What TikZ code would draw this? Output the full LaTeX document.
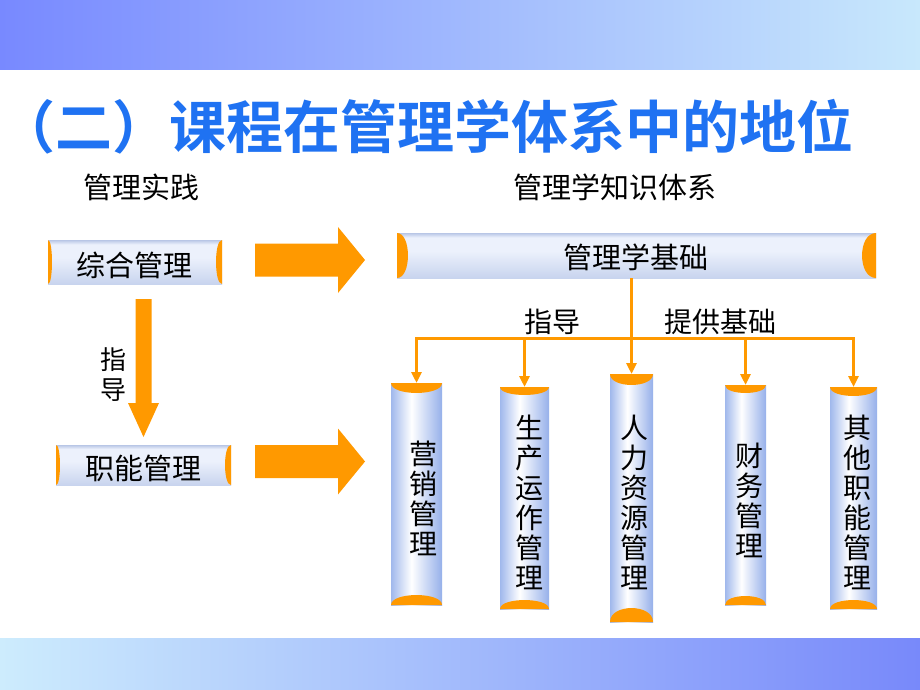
\documentclass[tikz,border=0pt]{standalone}
\usepackage{fontspec}
\newfontfamily\cjk[BoldFont={* Bold}]{Noto Sans CJK SC}
\usetikzlibrary{arrows.meta,calc}
\definecolor{topL}{RGB}{120,137,255}
\definecolor{topR}{RGB}{200,232,252}
\definecolor{botL}{RGB}{205,236,253}
\definecolor{botR}{RGB}{120,137,250}
\definecolor{orng}{RGB}{255,153,0}
\definecolor{titleblue}{RGB}{31,114,242}
\definecolor{cylB}{RGB}{160,184,236}
\definecolor{cylBB}{RGB}{150,176,234}
\definecolor{hTop}{RGB}{184,198,230}
\definecolor{hMid}{RGB}{236,241,252}
\definecolor{hBot}{RGB}{200,212,238}
\pgfdeclarehorizontalshading{vbarshade}{100bp}{color(0bp)=(cylB); color(25bp)=(cylB); color(45bp)=(white); color(75bp)=(cylBB); color(100bp)=(cylBB)}
\pgfdeclareverticalshading{hbarshade}{100bp}{color(0bp)=(hBot); color(25bp)=(hBot); color(55bp)=(hMid); color(70bp)=(hMid); color(75bp)=(hTop); color(100bp)=(hTop)}
\newcommand\hcaps[3]{%
  \fill[orng] (#1.north west) -- (#1.south west) .. controls ([xshift={1.33*#2pt}]#1.south west) and ([xshift={1.33*#2pt}]#1.north west) .. (#1.north west);
  \fill[orng] (#1.north east) -- (#1.south east) .. controls ([xshift={-1.33*#3pt}]#1.south east) and ([xshift={-1.33*#3pt}]#1.north east) .. (#1.north east);}
\newcommand\vcaps[3]{%
  \fill[orng] (#1.north west) -- (#1.north east) .. controls ([yshift={-1.33*#2pt}]#1.north east) and ([yshift={-1.33*#2pt}]#1.north west) .. (#1.north west);
  \fill[orng] (#1.south west) -- (#1.south east) .. controls ([yshift={1.33*#3pt}]#1.south east) and ([yshift={1.33*#3pt}]#1.south west) .. (#1.south west);}
\newcommand\myRArrow[2]{\fill[orng] ($(#1)+(0,-16.5)$) -- ($(#2)+(-27,-16.5)$) -- ($(#2)+(-27,-33)$) -- (#2) -- ($(#2)+(-27,33)$) -- ($(#2)+(-27,16.5)$) -- ($(#1)+(0,16.5)$) -- cycle;}
\newcommand\myDArrow[2]{\fill[orng] ($(#1)+(-8,0)$) -- ($(#2)+(-8,-34)$) -- ($(#2)+(-15.5,-34)$) -- (#2) -- ($(#2)+(15.5,-34)$) -- ($(#2)+(8,-34)$) -- ($(#1)+(8,0)$) -- cycle;}
\begin{document}
\begin{tikzpicture}[x=1pt,y=-1pt,
  hbar/.style={shade, shading=hbarshade, inner sep=0pt, outer sep=0pt},
  vbar/.style={shade, shading=vbarshade, inner sep=0pt, outer sep=0pt},
  txt/.style={inner sep=0pt, font=\cjk\fontsize{29pt}{31pt}\selectfont},
  vtxt/.style={inner sep=0pt, align=center, font=\cjk\fontsize{28pt}{30pt}\selectfont},
  conn/.style={draw=orng, line width=3pt},
  tip/.style={-{Triangle[length=11pt,width=10pt]}}]
\useasboundingbox (0,0) rectangle (920,690);
\fill[white] (0,0) rectangle (920,690);
\shade[left color=topL, right color=topR] (0,0) rectangle (920,70);
\shade[left color=botL, right color=botR] (0,638) rectangle (920,690);

\node[inner sep=0pt, anchor=west, text=titleblue, font=\cjk\bfseries\fontsize{57pt}{60pt}\selectfont] (title) at (-2,127) {（二）课程在管理学体系中的地位};
\node[txt] (hp) at (141,187) {管理实践};
\node[txt] (hk) at (615,187) {管理学知识体系};

% left boxes
\node[hbar, minimum width=174pt, minimum height=44pt] (box1) at (135,262) {};
\node[hbar, minimum width=175pt, minimum height=40pt] (box2) at (143.5,465) {};
\hcaps{box1}{4}{6}
\hcaps{box2}{4}{6}
\node[txt] (box1t) at (134,265) {综合管理};
\node[txt] (box2t) at (143,468) {职能管理};

% base bar
\node[hbar, minimum width=479pt, minimum height=45pt] (base) at (636.5,255.5) {};
\hcaps{base}{11}{14}
\node[txt] (baset) at (636,257) {管理学基础};

% vertical bars
\node[vbar, minimum width=51pt, minimum height=222pt] (b1) at (416.5,494) {};
\node[vbar, minimum width=49pt, minimum height=222pt] (b2) at (524.5,498) {};
\node[vbar, minimum width=43pt, minimum height=248pt] (b3) at (631.5,498) {};
\node[vbar, minimum width=41pt, minimum height=220pt] (b4) at (745.5,495) {};
\node[vbar, minimum width=47pt, minimum height=222pt] (b5) at (853.5,498) {};
\vcaps{b1}{10}{10}
\vcaps{b2}{8}{9}
\vcaps{b3}{11}{14}
\vcaps{b4}{8}{9}
\vcaps{b5}{9}{9}
\node[vtxt] (t1) at (423,498) {营\\销\\管\\理};
\node[vtxt] (t2) at (529,502) {生\\产\\运\\作\\管\\理};
\node[vtxt] (t3) at (634,502) {人\\力\\资\\源\\管\\理};
\node[vtxt] (t4) at (749,500) {财\\务\\管\\理};
\node[vtxt] (t5) at (857,502) {其\\他\\职\\能\\管\\理};

% big arrows
\coordinate (a1s) at ($(box1.east)+(33,-2)$);
\coordinate (a1e) at ($(a1s -| base.west)+(-32,0)$);
\coordinate (a2s) at ($(box2.east)+(24,-3.5)$);
\coordinate (a2e) at ($(a2s -| b1.west)+(-26,0)$);
\coordinate (d1s) at ($(box2.north |- box1.south)+(0,15)$);
\coordinate (d1e) at ($(box2.north)+(0,-8)$);
\myRArrow{a1s}{a1e}
\myRArrow{a2s}{a2e}
\myDArrow{d1s}{d1e}
\node[inner sep=0pt, align=center, font=\cjk\fontsize{26pt}{30pt}\selectfont] (guide1) at (113,375) {指\\导};

% tree connectors
\coordinate (hub) at ($(base.south)+(0,60)$);
\draw[conn, line cap=rect] (b1.north |- hub) -- (b5.north |- hub);
\draw[conn, tip] (base.south -| b3.north) -- (b3.north);
\draw[conn, tip] (b1.north |- hub) -- (b1.north);
\draw[conn, tip] (b2.north |- hub) -- (b2.north);
\draw[conn, tip] (b4.north |- hub) -- (b4.north);
\draw[conn, tip] (b5.north |- hub) -- (b5.north);
\node[vtxt] (guide2) at (552,322) {指导};
\node[vtxt] (basis) at (720,322) {提供基础};
\end{tikzpicture}
\end{document}
